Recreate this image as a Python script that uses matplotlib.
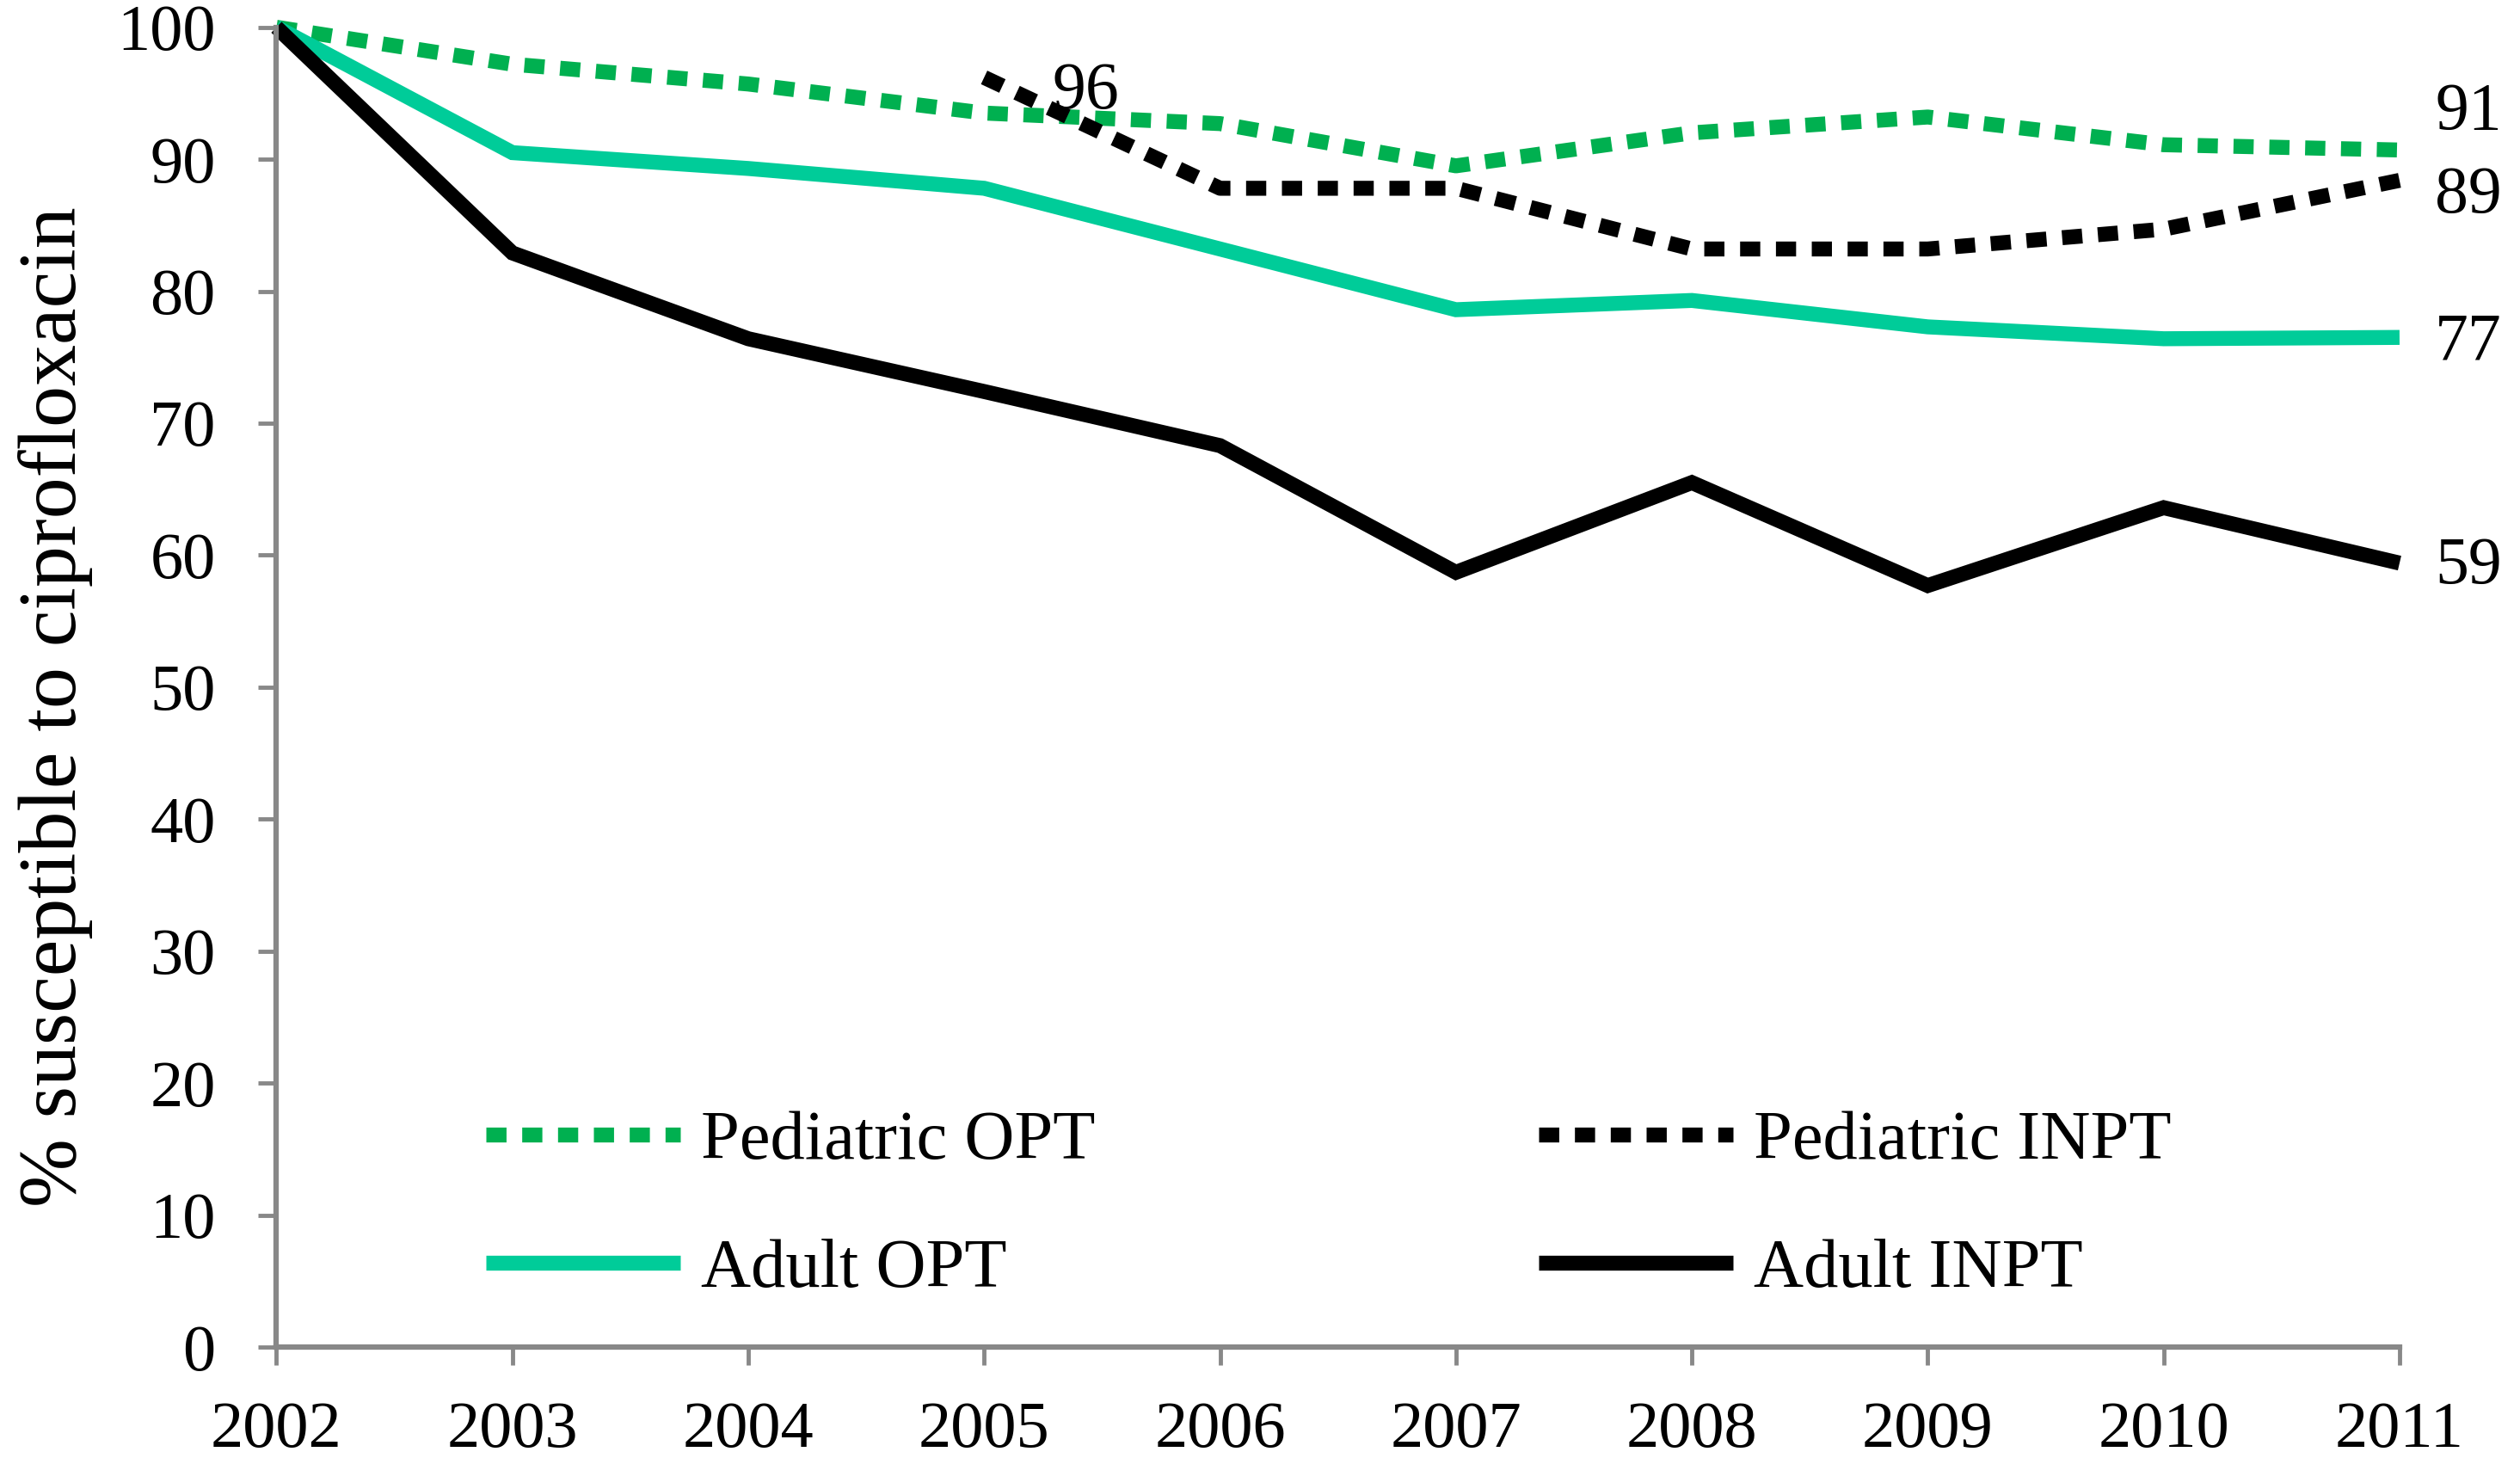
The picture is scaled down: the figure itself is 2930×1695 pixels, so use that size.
import matplotlib
matplotlib.use("Agg")
import matplotlib.pyplot as plt

years = [2002, 2003, 2004, 2005, 2006, 2007, 2008, 2009, 2010, 2011]
ped_opt = [100, 97.2, 95.7, 93.5, 92.7, 89.5, 92.0, 93.2, 91.1, 90.7]
ped_inpt_years = [2005, 2006, 2007, 2008, 2009, 2010, 2011]
ped_inpt = [96.2, 87.8, 87.8, 83.2, 83.2, 84.7, 88.4]
adult_opt = [100, 90.5, 89.3, 87.8, 83.2, 78.6, 79.3, 77.3, 76.4, 76.5]
adult_inpt = [100, 82.9, 76.4, 72.4, 68.3, 58.7, 65.5, 57.7, 63.6, 59.4]

end_labels = ["91", "89", "77", "59"]
end_label_y = [93.5, 87.2, 76.1, 59.1]
start_label = "96"

GREEN = "#00B050"
TEAL = "#00CC99"
GRAY = "#888888"
FONT = "Liberation Serif"

plt.rcParams["font.family"] = [FONT, "DejaVu Serif"]

fig = plt.figure(figsize=(29.30, 16.95), dpi=100)
ax = fig.add_axes([0.1097, 0.0761, 0.8425, 0.9052])

lw = 12.5
l1, = ax.plot(years, ped_opt, color=GREEN, lw=lw, linestyle=(0, (1.35, 1.05)),
              dash_capstyle="butt", solid_joinstyle="miter", label="Pediatric OPT", clip_on=False)
l2, = ax.plot(ped_inpt_years, ped_inpt, color="black", lw=lw, linestyle=(0, (1.35, 1.05)),
              dash_capstyle="butt", label="Pediatric INPT", clip_on=False)
l3, = ax.plot(years, adult_opt, color=TEAL, lw=lw, solid_capstyle="butt",
              solid_joinstyle="miter", label="Adult OPT", clip_on=False)
l4, = ax.plot(years, adult_inpt, color="black", lw=lw, solid_capstyle="butt",
              solid_joinstyle="miter", label="Adult INPT", clip_on=False)

ax.set_xlim(years[0], years[-1])
ax.set_ylim(0, 100)
ax.set_xticks(years)
ax.set_yticks(range(0, 101, 10))

for side in ["top", "right"]:
    ax.spines[side].set_visible(False)
for side in ["left", "bottom"]:
    ax.spines[side].set_color(GRAY)
    ax.spines[side].set_linewidth(4.5)
ax.tick_params(axis="both", direction="out", length=15, width=3.5, color=GRAY,
               labelsize=55, labelcolor="black")
ax.tick_params(axis="y", pad=36)
ax.tick_params(axis="x", pad=30)

for t in ax.get_xticklabels() + ax.get_yticklabels():
    t.set_fontfamily(FONT)

fig.text(0.022, 0.515, "% susceptible to ciprofloxacin", rotation=90,
         ha="center", va="center", fontsize=69, family=FONT)

ax.text(2005.43, 95.1, start_label, ha="center", va="center", fontsize=56, family=FONT)
for lab, y in zip(end_labels, end_label_y):
    ax.text(2011.15, y, lab, ha="left", va="center", fontsize=56, family=FONT, clip_on=False)

leg = ax.legend(handles=[l1, l3, l2, l4], ncol=2, loc="upper left",
                bbox_to_anchor=(0.193, 0.2384), bbox_transform=fig.transFigure,
                frameon=False, handlelength=2.8, handletextpad=0.3,
                columnspacing=6.4, labelspacing=0.94, borderpad=0, borderaxespad=0,
                prop={"family": FONT, "size": 58})

fig.savefig("out.png", dpi=100)
